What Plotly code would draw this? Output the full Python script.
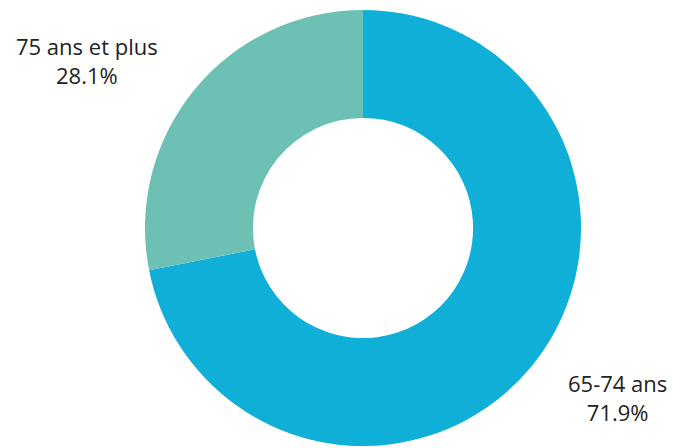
import plotly.graph_objects as go

labels = ["65-74 ans", "75 ans et plus"]
values = [71.9, 28.1]
colors = ["#0fafd8", "#6cc0b4"]

# page body has an 8px default margin; positions below compensate for it
OFF = 8
W, H = 683, 448

fig = go.Figure()
fig.add_trace(go.Pie(
    labels=labels, values=values, hole=0.505, sort=False,
    direction="clockwise", rotation=0,
    marker=dict(colors=colors, line=dict(width=0)),
    textinfo="none", hoverinfo="label+percent", showlegend=False,
    domain=dict(x=[(145 - OFF) / W, (581 - OFF) / W],
                y=[1 - (446 - OFF) / H, 1 - (10 - OFF) / H]),
))

label_pos = {"75 ans et plus": (87, 61), "65-74 ans": (617, 397)}
total = sum(values)
for lab, val in zip(labels, values):
    px, py = label_pos[lab]
    fig.add_annotation(
        x=(px - OFF) / W, y=1 - (py - OFF) / H, xref="paper", yref="paper", showarrow=False,
        text=f"{lab}<br>{val/total*100:.1f}%", align="center",
        font=dict(family="Open Sans", size=22, color="#222222"),
        xanchor="center", yanchor="middle",
    )

fig.update_layout(
    width=W, height=H, margin=dict(l=0, r=0, t=0, b=0),
    paper_bgcolor="white", plot_bgcolor="white",
)
fig.write_html("out.html")
